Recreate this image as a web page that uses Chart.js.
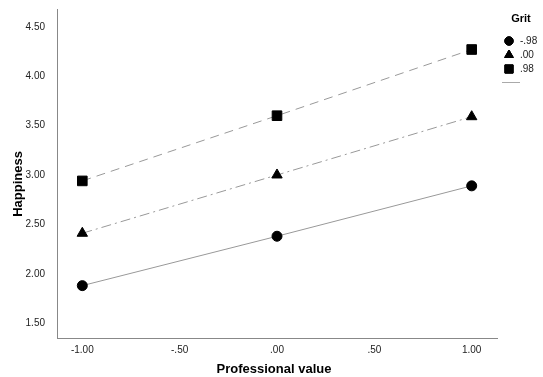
<!DOCTYPE html>
<html>
<head>
<meta charset="utf-8">
<script src="https://cdn.jsdelivr.net/npm/chart.js@4/dist/chart.umd.min.js"></script>
<style>
  html, body { margin: 0; padding: 0; background: #fff; }
  #wrap { width: 543px; height: 377px; }
</style>
</head>
<body>
<div id="wrap"><canvas id="myChart"></canvas></div>
<script>
// data
var xValues = [-1, 0, 1];
var gritLabels = ['-.98', '.00', '.98'];
var lowGrit = [1.88, 2.38, 2.89];
var midGrit = [2.41, 3.00, 3.59];
var highGrit = [2.94, 3.60, 4.27];

var xTickValues = [-1, -0.5, 0, 0.5, 1];
var xTickLabels = ['-1.00', '-.50', '.00', '.50', '1.00'];
var yTickValues = [1.5, 2, 2.5, 3, 3.5, 4, 4.5];
var yTickLabels = ['1.50', '2.00', '2.50', '3.00', '3.50', '4.00', '4.50'];

var FONT = "'Liberation Sans', Arial, sans-serif";

function pts(ys) {
    return xValues.map(function (x, i) { return { x: x, y: ys[i] }; });
}

var styles = [
    { pointStyle: 'circle', radius: 5, dash: [], legendRadius: 4.2 },
    { pointStyle: 'triangle', radius: 6, dash: [10, 4, 2, 4], legendRadius: 5 },
    { pointStyle: 'rect', radius: 6.8, dash: [9, 6], legendRadius: 5.8 }
];
var series = [lowGrit, midGrit, highGrit];

var datasets = series.map(function (s, i) {
    return {
        label: gritLabels[i],
        data: pts(s),
        showLine: true,
        borderColor: '#999',
        borderWidth: 1,
        borderDash: styles[i].dash,
        pointStyle: styles[i].pointStyle,
        pointRadius: styles[i].radius,
        pointHoverRadius: styles[i].radius,
        pointBackgroundColor: '#000',
        pointBorderColor: '#000',
        pointBorderWidth: 1
    };
});

// axis titles + legend drawn by hand, like the SPSS output
var spssExtras = {
    id: 'spssExtras',
    afterDraw: function (chart) {
        var c = chart.ctx;
        c.save();
        c.fillStyle = '#000';
        c.textAlign = 'center';
        c.textBaseline = 'middle';
        c.font = 'bold 13px ' + FONT;
        c.fillText('Professional value', 274, 369);
        c.save();
        c.translate(18, 184);
        c.rotate(-Math.PI / 2);
        c.fillText('Happiness', 0, 0);
        c.restore();

        c.font = 'bold 11px ' + FONT;
        c.fillText('Grit', 521, 19);
        var ys = [41, 55, 69];
        c.font = '10px ' + FONT;
        c.textAlign = 'left';
        for (var i = 0; i < gritLabels.length; i++) {
            Chart.helpers.drawPoint(c, {
                pointStyle: styles[i].pointStyle,
                radius: styles[i].legendRadius,
                borderWidth: 1
            }, 509, ys[i]);
            c.fillStyle = '#000';
            c.strokeStyle = '#000';
            c.fill();
            c.stroke();
            c.fillStyle = '#222';
            c.fillText(gritLabels[i], 520, ys[i] + 0.5);
        }
        c.strokeStyle = '#aaa';
        c.lineWidth = 1;
        c.beginPath();
        c.moveTo(502, 82.5);
        c.lineTo(520, 82.5);
        c.stroke();
        c.restore();
    }
};

var ctx = document.getElementById('myChart');
var myChart = new Chart(ctx, {
    type: 'scatter',
    data: { datasets: datasets },
    plugins: [spssExtras],
    options: {
        responsive: true,
        maintainAspectRatio: false,
        animation: false,
        layout: {
            padding: { left: 0, right: 46, top: 9, bottom: 0 }
        },
        plugins: {
            legend: { display: false },
            tooltip: { enabled: false }
        },
        scales: {
            x: {
                type: 'linear',
                min: -1.13,
                max: 1.13,
                grid: { display: false, drawTicks: false },
                border: { display: true, color: '#888', width: 1 },
                afterBuildTicks: function (scale) {
                    scale.ticks = xTickValues.map(function (v) { return { value: v }; });
                },
                afterFit: function (scale) {
                    scale.height = 39;
                    scale.paddingLeft = 0;
                    scale.paddingRight = 0;
                },
                ticks: {
                    padding: 6,
                    color: '#222',
                    font: { family: FONT, size: 10 },
                    maxRotation: 0,
                    callback: function (v) {
                        var i = xTickValues.indexOf(v);
                        return i >= 0 ? xTickLabels[i] : '';
                    }
                }
            },
            y: {
                type: 'linear',
                min: 1.35,
                max: 4.68,
                grid: { display: false, drawTicks: false },
                border: { display: true, color: '#888', width: 1 },
                afterBuildTicks: function (scale) {
                    scale.ticks = yTickValues.map(function (v) { return { value: v }; });
                },
                afterFit: function (scale) {
                    scale.width = 57;
                    scale.paddingTop = 0;
                    scale.paddingBottom = 0;
                },
                ticks: {
                    padding: 12,
                    color: '#222',
                    font: { family: FONT, size: 10 },
                    callback: function (v) {
                        var i = yTickValues.indexOf(v);
                        return i >= 0 ? yTickLabels[i] : '';
                    }
                }
            }
        }
    }
});
</script>
</body>
</html>
